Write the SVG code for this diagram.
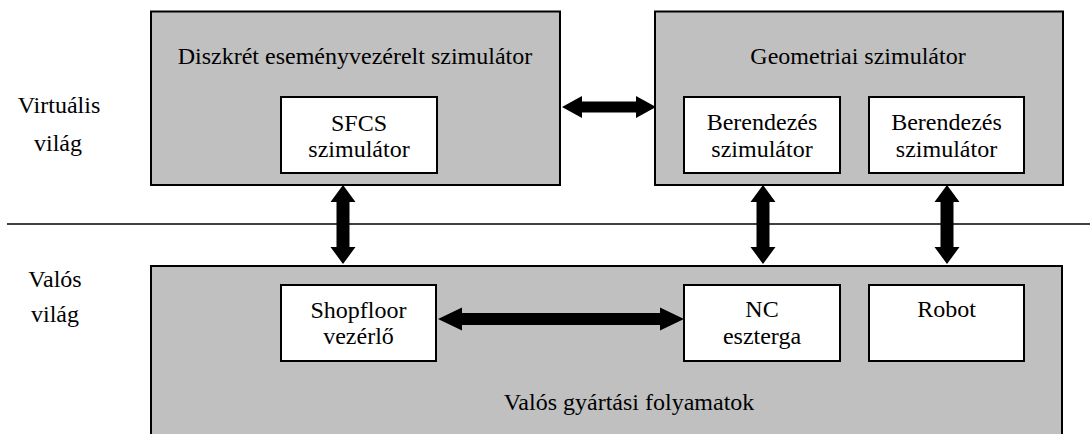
<svg xmlns="http://www.w3.org/2000/svg" width="1090" height="434" viewBox="0 0 1090 434">
  <style>
    .outer { fill: #c0c0c0; stroke: #000; stroke-width: 2; }
    .inner { fill: #fff; stroke: #000; stroke-width: 2; }
    text { font-family: 'Liberation Serif', 'Times New Roman', Times, 'Nimbus Roman', 'DejaVu Serif', serif; font-size: 24px; fill: #000; text-anchor: middle; }
    .arrow { fill: #000; stroke: none; }
    .divider { stroke: #000; stroke-width: 1.5; }
  </style>

  <!-- world labels and divider -->
  <g id="labels">
    <text x="59" y="113">Virtuális</text>
    <text x="58" y="151">világ</text>
    <text x="55" y="287">Valós</text>
    <text x="55" y="322">világ</text>
  </g>
  <line class="divider" x1="7" y1="224" x2="1090" y2="224"/>

  <!-- discrete event simulator -->
  <g id="discrete-sim">
    <rect class="outer" x="151" y="11.5" width="409" height="173.5"/>
    <text x="355" y="64">Diszkrét eseményvezérelt szimulátor</text>
  </g>
  <g id="sfcs-sim">
    <rect class="inner" x="281" y="97" width="156" height="76"/>
    <text x="359" y="131">SFCS</text>
    <text x="359" y="157">szimulátor</text>
  </g>

  <!-- geometric simulator -->
  <g id="geometric-sim">
    <rect class="outer" x="655" y="11.5" width="408" height="173.5"/>
    <text x="858" y="64">Geometriai szimulátor</text>
  </g>
  <g id="equipment-sim-1">
    <rect class="inner" x="684" y="97" width="156" height="76"/>
    <text x="762" y="130">Berendezés</text>
    <text x="762" y="157">szimulátor</text>
  </g>
  <g id="equipment-sim-2">
    <rect class="inner" x="869" y="97" width="155" height="76"/>
    <text x="946.5" y="130">Berendezés</text>
    <text x="946.5" y="157">szimulátor</text>
  </g>

  <!-- real manufacturing processes -->
  <g id="real-processes">
    <rect class="outer" x="151" y="266" width="911" height="180"/>
    <text x="629" y="410">Valós gyártási folyamatok</text>
  </g>
  <g id="shopfloor-controller">
    <rect class="inner" x="281" y="285" width="155" height="76"/>
    <text x="358.5" y="318">Shopfloor</text>
    <text x="358.5" y="344">vezérlő</text>
  </g>
  <g id="nc-lathe">
    <rect class="inner" x="684" y="285" width="156" height="76"/>
    <text x="762" y="317">NC</text>
    <text x="762" y="344">eszterga</text>
  </g>
  <g id="robot">
    <rect class="inner" x="869" y="285" width="155" height="76"/>
    <text x="946.5" y="317">Robot</text>
  </g>

  <!-- double-headed block arrows -->
  <g id="connectors">
    <!-- simulators, horizontal -->
    <polygon class="arrow" points="562,107 582,96 582,101.5 636,101.5 636,96 656,107 636,118 636,112.5 582,112.5 582,118"/>
    <!-- SFCS <-> shopfloor -->
    <polygon class="arrow" points="343,185 355.5,202 349.5,202 349.5,247 355.5,247 343,264 330.5,247 336.5,247 336.5,202 330.5,202"/>
    <!-- equipment sim 1 <-> NC lathe -->
    <polygon class="arrow" points="763,185 775.5,202 769.5,202 769.5,247 775.5,247 763,264 750.5,247 756.5,247 756.5,202 750.5,202"/>
    <!-- equipment sim 2 <-> robot -->
    <polygon class="arrow" points="947,185 959.5,202 953.5,202 953.5,247 959.5,247 947,264 934.5,247 940.5,247 940.5,202 934.5,202"/>
    <!-- shopfloor <-> NC lathe -->
    <polygon class="arrow" points="438,319 462,307.5 462,313 660,313 660,307.5 684,319 660,330.5 660,325 462,325 462,330.5"/>
  </g>
</svg>
